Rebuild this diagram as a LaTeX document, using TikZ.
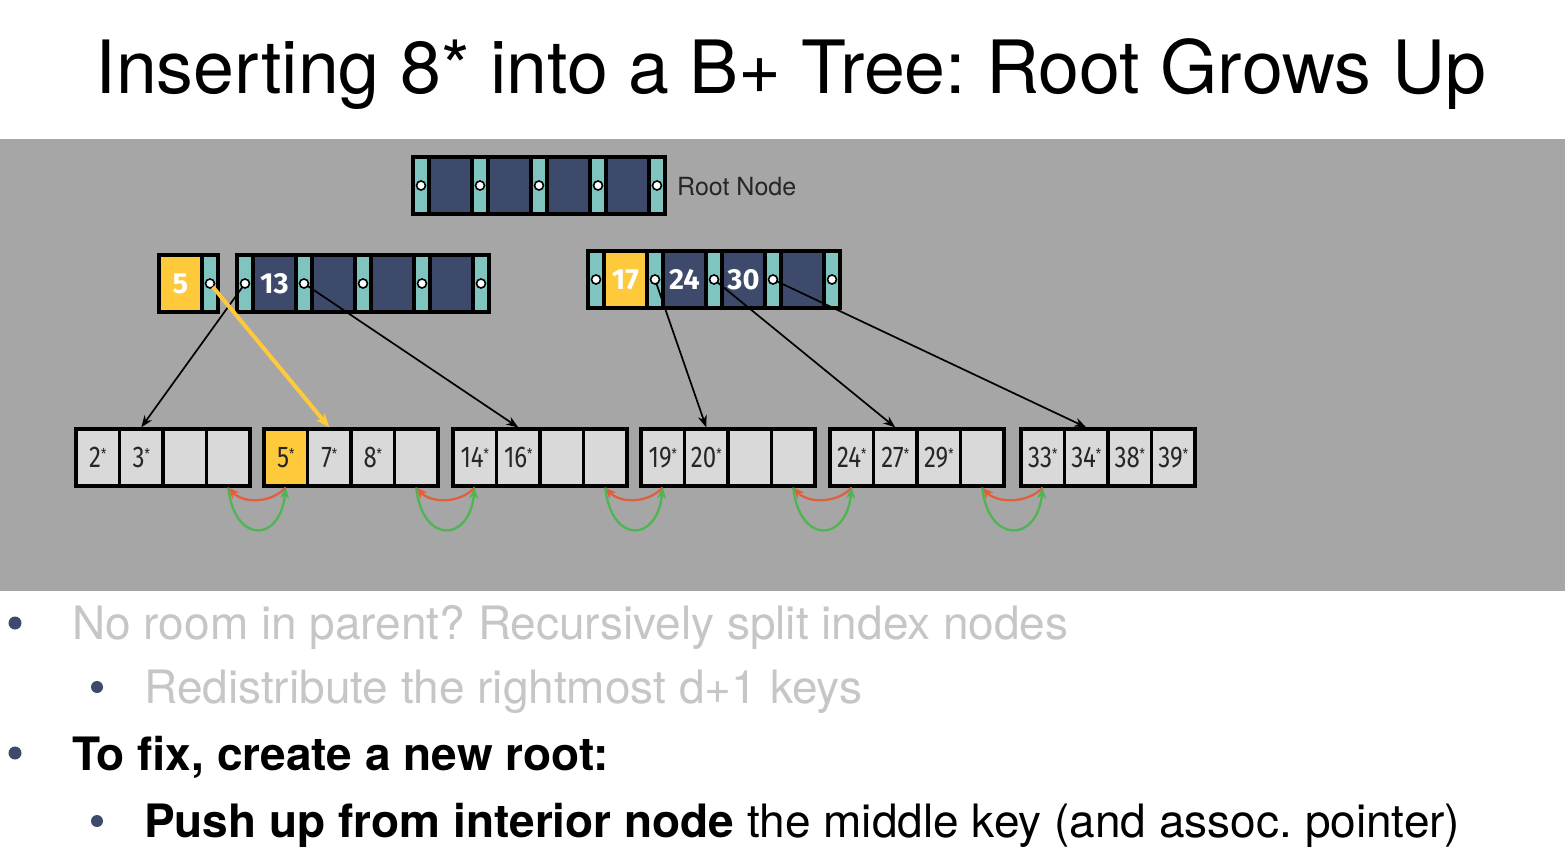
\documentclass[tikz,border=0pt]{standalone}
\usepackage{fontspec}
\setmainfont{TeX Gyre Heros}
\newfontfamily\keyfont{Fira Sans}
\newfontfamily\leaffont{Fira Sans}[FakeStretch=0.8]
\usetikzlibrary{arrows.meta}
\frenchspacing

\definecolor{slidegray}{HTML}{A6A6A6}
\definecolor{keynavy}{HTML}{3D4A6B}
\definecolor{ptrteal}{HTML}{80C4C0}
\definecolor{keyyellow}{HTML}{FFC93C}
\definecolor{leafgray}{HTML}{D9D9D9}
\definecolor{linkred}{HTML}{E0603E}
\definecolor{linkgreen}{HTML}{4DB653}
\definecolor{fadedtext}{HTML}{C6C6C6}

\newcommand{\st}{\raisebox{8pt}{\fontsize{15}{15}\selectfont *}}

\tikzset{
  cell/.style={draw=black, line width=3.2pt, inner sep=0pt, minimum height=57pt},
  ptrcell/.style={cell, fill=ptrteal, minimum width=16pt},
  keycell/.style={cell, fill=keynavy, minimum width=43pt, text=white,
    font=\keyfont\bfseries\fontsize{29}{29}\selectfont},
  leafcell/.style={cell, fill=leafgray, minimum width=43.5pt, text=black!85,
    font=\leaffont\fontsize{30}{30}\selectfont},
  ptrdot/.style={draw=black, fill=white, line width=1.6pt},
  downptr/.style={-{Stealth[length=12pt,width=9pt]}, line width=1.7pt, shorten <=4.5pt},
  siblink/.style={-{Stealth[length=11pt,width=9pt]}, line width=2.3pt},
  slidetext/.style={anchor=base west, inner sep=0pt, font=\fontsize{46}{50}\selectfont}
}

\begin{document}
\begin{tikzpicture}[x=1pt, y=-1pt]
	\useasboundingbox (0,0) rectangle (1565,860);
	\fill[white] (0,0) rectangle (1565,860);
	\fill[slidegray] (0,139) rectangle (1565,591);
	
	\node[anchor=base, font=\fontsize{73.5}{80}\selectfont] (title) at (791,93) {Inserting 8* into a B+ Tree: Root Grows Up};
	
	% new root
	\foreach \k in {0,...,4} {
		\node[ptrcell] (root-p\k) at ({421+\k*59},185.5) {};
		\draw[ptrdot] (root-p\k.center) circle[radius=4.5pt];
	}
	\foreach \k in {1,...,4}
		\node[keycell] (root-k\k) at ({450.5+(\k-1)*59},185.5) {};
	\node[anchor=base west, inner sep=0pt, font=\fontsize{25}{30}\selectfont, text=black!85] (rootlabel) at (677,195) {Root Node};
	
	% index level
	\node[keycell, fill=keyyellow] (n5-k) at (180.5,283.5) {5};
	\node[ptrcell] (n5-p) at (210,283.5) {};
	\draw[ptrdot] (n5-p.center) circle[radius=4.5pt];
	
	\foreach \k in {0,...,4} {
		\node[ptrcell] (left-p\k) at ({245+\k*59},283.5) {};
		\draw[ptrdot] (left-p\k.center) circle[radius=4.5pt];
	}
	\foreach \k/\t in {1/13,2/{},3/{},4/{}}
		\node[keycell] (left-k\k) at ({274.5+(\k-1)*59},283.5) {\t};
	
	\foreach \k in {0,...,4} {
		\node[ptrcell] (right-p\k) at ({596+\k*59},279.5) {};
		\draw[ptrdot] (right-p\k.center) circle[radius=4.5pt];
	}
	\foreach \k/\t/\f in {1/17/keyyellow,2/24/keynavy,3/30/keynavy,4/{}/keynavy}
		\node[keycell, fill=\f] (right-k\k) at ({625.5+(\k-1)*59},279.5) {\t};
	
	% leaves
	\foreach \i/\x/\f/\a/\b/\c/\d in {1/76/leafgray/2\st/3\st/{}/{},
		2/264/keyyellow/5\st/7\st/8\st/{},
		3/453/leafgray/14\st/16\st/{}/{},
		4/641/leafgray/19\st/20\st/{}/{},
		5/830/leafgray/24\st/27\st/29\st/{},
		6/1021/leafgray/33\st/34\st/38\st/39\st} {
		\node[leafcell, fill=\f] (leaf\i-1) at ({\x+21.75},457.5) {\a};
		\node[leafcell] (leaf\i-2) at ({\x+65.25},457.5) {\b};
		\node[leafcell] (leaf\i-3) at ({\x+108.75},457.5) {\c};
		\node[leafcell] (leaf\i-4) at ({\x+152.25},457.5) {\d};
	}
	
	\draw[downptr] (left-p0.center) -- (leaf1-2.north);
	\draw[downptr] (left-p1.center) -- (leaf3-2.north);
	\draw[downptr] (right-p1.center) -- (leaf4-2.north);
	\draw[downptr] (right-p2.center) -- (leaf5-2.north);
	\draw[downptr] (right-p3.center) -- (leaf6-2.north);
	\draw[downptr, draw=keyyellow, fill=keyyellow, line width=4pt, -{Stealth[length=14pt,width=11pt]}] (n5-p.center) -- (leaf2-2.north);
	
	% sibling links
	\foreach \i [evaluate=\i as \j using int(\i+1)] in {1,...,5} {
		\draw[siblink, linkred] (leaf\j-1.south) .. controls +(-15,16) and +(15,16) .. (leaf\i-4.south);
		\draw[siblink, linkgreen] (leaf\i-4.south) .. controls +(6,56) and +(-6,56) .. (leaf\j-1.south);
	}
	
	% bullets
	\fill[keynavy] (15,623) circle[radius=6.5pt];
	\fill[keynavy] (97,687) circle[radius=6pt];
	\fill[keynavy] (15,753) circle[radius=6.5pt];
	\fill[keynavy] (97,821) circle[radius=6pt];
	\node[slidetext, text=fadedtext] (point1) at (72,639) {No room in parent? Recursively split index nodes};
	\node[slidetext, text=fadedtext] (point2) at (144,703) {Redistribute the rightmost d+1 keys};
	\node[slidetext, font=\bfseries\fontsize{46}{50}\selectfont] (point3) at (72,770) {To fix, create a new root:};
	\node[slidetext] (point4) at (144,837) {\textbf{Push up from interior node} the middle key (and assoc. pointer)};
\end{tikzpicture}
\end{document}
